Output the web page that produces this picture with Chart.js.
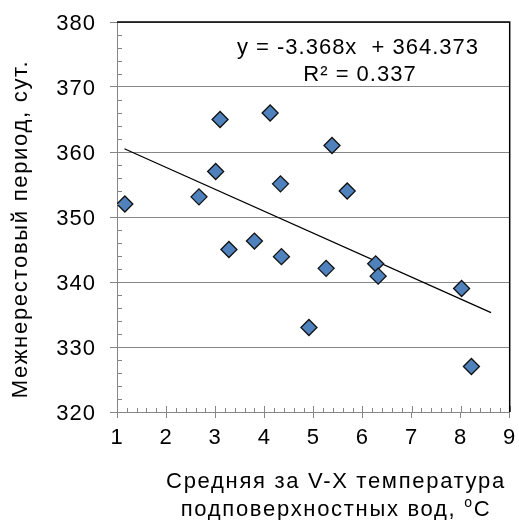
<!DOCTYPE html>
<html>
<head>
<meta charset="utf-8">
<script src="https://cdn.jsdelivr.net/npm/chart.js@4"></script>
<style>
html,body{margin:0;padding:0;background:#fff;}
#wrap{width:519px;height:520px;}
</style>
</head>
<body>
<div id="wrap"><canvas id="c" width="519" height="520"></canvas></div>
<script>
// Data
const tempX = [1.16, 2.67, 3.10, 3.01, 4.12, 4.33, 5.38, 5.69, 3.28, 3.80, 4.35, 4.91, 5.26, 6.27, 6.32, 8.02, 8.22];
const periodY = [352.0, 353.1, 365.0, 357.0, 366.0, 355.1, 361.0, 354.0, 345.0, 346.3, 343.9, 333.0, 342.1, 342.8, 340.9, 339.0, 327.0];
const trendX = [1.15, 8.62];
const trendY = [360.5, 335.3];
const xTicks = [1, 2, 3, 4, 5, 6, 7, 8, 9];
const yTicks = [320, 330, 340, 350, 360, 370, 380];
const equationLines = ["y = -3.368x  + 364.373", "R² = 0.337"];
const yTitle = "Межнерестовый период, сут.";
const xTitleLines = ["Средняя за V-X температура", "подповерхностных вод, "];

const FONT = "'Liberation Sans', Arial, sans-serif";
const GREY = '#868686';

const scatterData = tempX.map((x, i) => ({x: x, y: periodY[i]}));
const trendData = trendX.map((x, i) => ({x: x, y: trendY[i]}));

const spacing = {
  id: 'spacing',
  beforeUpdate(chart) { chart.ctx.letterSpacing = '1px'; },
  beforeDraw(chart) { chart.ctx.letterSpacing = '1px'; }
};

const decor = {
  id: 'decor',
  afterDraw(chart) {
    const ctx = chart.ctx;
    const a = chart.chartArea;
    const xs = chart.scales.x, ys = chart.scales.y;
    ctx.save();
    // minor ticks
    ctx.strokeStyle = GREY;
    ctx.lineWidth = 1;
    ctx.beginPath();
    for (let v = 320; v <= 380.001; v += 2) {
      if (Math.abs(v % 10) < 0.001) continue;
      const py = Math.round(ys.getPixelForValue(v)) + 0.5;
      ctx.moveTo(a.left, py); ctx.lineTo(a.left + 5, py);
    }
    for (let k = 0; k <= 40; k++) {
      const v = 1 + k * 0.2;
      const px = Math.round(xs.getPixelForValue(v)) + 0.5;
      ctx.moveTo(px, a.bottom); ctx.lineTo(px, a.bottom - (k % 5 === 0 ? 6 : 4));
    }
    ctx.stroke();
    // top and right border
    ctx.strokeStyle = '#000';
    ctx.lineWidth = 1.5;
    ctx.beginPath();
    ctx.moveTo(a.left, a.top); ctx.lineTo(a.right, a.top); ctx.lineTo(a.right, a.bottom);
    ctx.stroke();
    // equation
    ctx.fillStyle = '#000';
    ctx.textAlign = 'center';
    ctx.textBaseline = 'middle';
    ctx.letterSpacing = '1px';
    ctx.font = "22px " + FONT;
    ctx.fillText(equationLines[0], 358, 48);
    ctx.fillText(equationLines[1], 360, 75);
    // y title
    ctx.letterSpacing = '1.7px';
    ctx.save();
    ctx.translate(21, 229);
    ctx.rotate(-Math.PI / 2);
    ctx.fillText(yTitle, 0, 0);
    ctx.restore();
    // x title
    const tx = 336;
    ctx.font = "22px " + FONT;
    ctx.fillText(xTitleLines[0], tx, 482);
    const w2 = ctx.measureText(xTitleLines[1]).width;
    const wC = ctx.measureText('C').width;
    ctx.font = "14px " + FONT;
    const wo = ctx.measureText('o').width;
    const total = w2 + wo + wC;
    const sx = tx - total / 2;
    ctx.textAlign = 'left';
    ctx.font = "22px " + FONT;
    ctx.fillText(xTitleLines[1], sx, 510);
    ctx.font = "14px " + FONT;
    ctx.fillText('o', sx + w2, 503);
    ctx.font = "22px " + FONT;
    ctx.fillText('C', sx + w2 + wo, 510);
    ctx.restore();
  }
};

new Chart(document.getElementById('c'), {
  type: 'scatter',
  data: {
    datasets: [
      {
        data: scatterData,
        pointStyle: 'rectRot',
        pointRadius: 8,
        pointHoverRadius: 8,
        backgroundColor: '#4F81BD',
        borderColor: '#111',
        borderWidth: 1.3,
        order: 1
      },
      {
        type: 'line',
        data: trendData,
        showLine: true,
        borderColor: '#000',
        borderWidth: 1.3,
        pointRadius: 0,
        fill: false,
        order: 2
      }
    ]
  },
  plugins: [spacing, decor],
  options: {
    responsive: false,
    animation: false,
    events: [],
    layout: {padding: {left: 0, top: 22, right: 9, bottom: 0}},
    plugins: {legend: {display: false}, tooltip: {enabled: false}},
    scales: {
      x: {
        type: 'linear',
        min: 1, max: 9,
        afterBuildTicks: s => { s.ticks = xTicks.map(v => ({value: v})); },
        afterFit: s => { s.height = 108; s.paddingLeft = 0; s.paddingRight = 0; },
        ticks: {color: '#000', font: {family: FONT, size: 22}, padding: 7, maxRotation: 0},
        grid: {drawOnChartArea: false, drawTicks: true, tickLength: 6, color: GREY},
        border: {color: GREY, width: 1}
      },
      y: {
        type: 'linear',
        min: 320, max: 380,
        afterBuildTicks: s => { s.ticks = yTicks.map(v => ({value: v})); },
        afterFit: s => { s.width = 117; s.paddingTop = 0; s.paddingBottom = 0; },
        ticks: {color: '#000', font: {family: FONT, size: 22}, padding: 14, labelOffset: 2},
        grid: {color: GREY, drawTicks: true, tickLength: 7},
        border: {color: GREY, width: 1}
      }
    }
  }
});
</script>
</body>
</html>
